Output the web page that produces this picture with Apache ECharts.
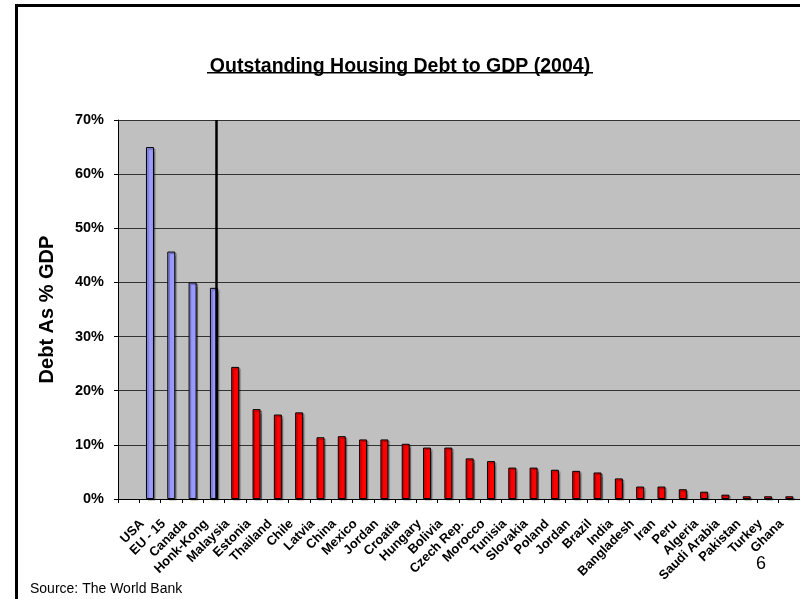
<!DOCTYPE html>
<html>
<head>
<meta charset="utf-8">
<script src="https://cdn.jsdelivr.net/npm/echarts@6/dist/echarts.min.js"></script>
<style>
html,body{margin:0;padding:0;background:#fff;}
#chart{width:800px;height:599px;}
</style>
</head>
<body>
<div id="chart"></div>
<script>
// ---- data ----
const titleText = 'Outstanding Housing Debt to GDP (2004)';
const yAxisName = 'Debt As % GDP';
const sourceText = 'Source: The World Bank';
const pageNumber = '6';
// first slot of the axis is empty in the original chart
const categories = ['', 'USA', 'EU - 15', 'Canada', 'Honk-Kong', 'Malaysia', 'Estonia', 'Thailand', 'Chile',
  'Latvia', 'China', 'Mexico', 'Jordan', 'Croatia', 'Hungary', 'Bolivia', 'Czech Rep.', 'Morocco',
  'Tunisia', 'Slovakia', 'Poland', 'Jordan', 'Brazil', 'India', 'Bangladesh', 'Iran', 'Peru',
  'Algeria', 'Saudi Arabia', 'Pakistan', 'Turkey', 'Ghana'];
const debtToGdp = ['-', 65.0, 45.7, 40.0, 39.0, 24.4, 16.6, 15.6, 16.0,
  11.4, 11.6, 11.0, 11.0, 10.2, 9.5, 9.5, 7.5, 7.0,
  5.8, 5.8, 5.4, 5.2, 4.9, 3.8, 2.3, 2.3, 1.8,
  1.35, 0.8, 0.5, 0.5, 0.5];
const highGroup = ['USA', 'EU - 15', 'Canada', 'Honk-Kong'];
const yTicks = [0, 10, 20, 30, 40, 50, 60, 70];
const dividerPosition = 4.63; // in category-slot units from the left of the axis

// ---- chart ----
const chart = echarts.init(document.getElementById('chart'), null, {renderer: 'canvas'});
const FONT = '"Liberation Sans", Arial, sans-serif';

chart.setOption({
  animation: false,
  backgroundColor: '#ffffff',
  title: {
    text: titleText,
    left: 'center',
    top: 52,
    textStyle: {fontFamily: FONT, fontSize: 19.5, fontWeight: 'bold', color: '#000'}
  },
  grid: {
    left: 118, right: 0, top: 120, bottom: 100,
    show: true, backgroundColor: '#C0C0C0', borderWidth: 0
  },
  xAxis: [{
    type: 'category',
    data: categories,
    boundaryGap: true,
    axisLine: {show: true, lineStyle: {color: '#000', width: 1}},
    axisTick: {show: true, length: 4, lineStyle: {color: '#000'}},
    axisLabel: {
      interval: 0, rotate: 45, margin: 15, padding: [0, 11, 0, 0],
      fontFamily: FONT, fontSize: 13, fontWeight: 'bold', color: '#000'
    },
    splitLine: {show: false}
  }, {
    type: 'value',
    min: 0, max: categories.length,
    show: false
  }],
  yAxis: {
    type: 'value',
    min: yTicks[0], max: yTicks[yTicks.length - 1], interval: 10,
    name: yAxisName,
    nameLocation: 'middle',
    nameGap: 61,
    nameRotate: 90,
    nameTextStyle: {fontFamily: FONT, fontSize: 20, fontWeight: 'bold', color: '#000'},
    axisLine: {show: true, lineStyle: {color: '#000', width: 1}},
    axisTick: {show: true, length: 4, lineStyle: {color: '#000'}},
    axisLabel: {
      formatter: '{value}%', margin: 14,
      fontFamily: FONT, fontSize: 14.5, fontWeight: 'bold', color: '#000'
    },
    splitLine: {show: true, lineStyle: {color: '#333333', width: 1}}
  },
  series: [{
    type: 'bar',
    xAxisIndex: 0,
    data: debtToGdp,
    barWidth: 8,
    itemStyle: {
      color: function (p) {
        return highGroup.indexOf(categories[p.dataIndex]) >= 0 && p.dataIndex <= highGroup.length ? '#9999FF' : '#FF0000';
      },
      borderColor: '#000',
      borderWidth: 1,
      shadowColor: 'rgba(0,0,0,0.35)',
      shadowOffsetX: 1.5,
      shadowOffsetY: 1.5,
      shadowBlur: 1
    },
    silent: true
  }, {
    type: 'line',
    xAxisIndex: 1,
    data: [],
    silent: true,
    markLine: {
      silent: true,
      symbol: ['none', 'none'],
      label: {show: false},
      lineStyle: {color: '#000', width: 2.5, type: 'solid'},
      data: [{xAxis: dividerPosition}]
    }
  }],
  graphic: [
    {type: 'rect', left: 'center', top: 72, shape: {width: 386, height: 1.6}, style: {fill: '#000'}, silent: true},
    {type: 'rect', left: 15, top: 4, shape: {width: 3, height: 600}, style: {fill: '#000'}, silent: true},
    {type: 'rect', left: 15, top: 4, shape: {width: 790, height: 3}, style: {fill: '#000'}, silent: true},
    {type: 'text', left: 30, top: 582, style: {text: sourceText, font: '14px ' + FONT, fill: '#000'}, silent: true},
    {type: 'text', left: 756, top: 555, style: {text: pageNumber, font: '18px ' + FONT, fill: '#000'}, silent: true}
  ]
});
</script>
</body>
</html>
